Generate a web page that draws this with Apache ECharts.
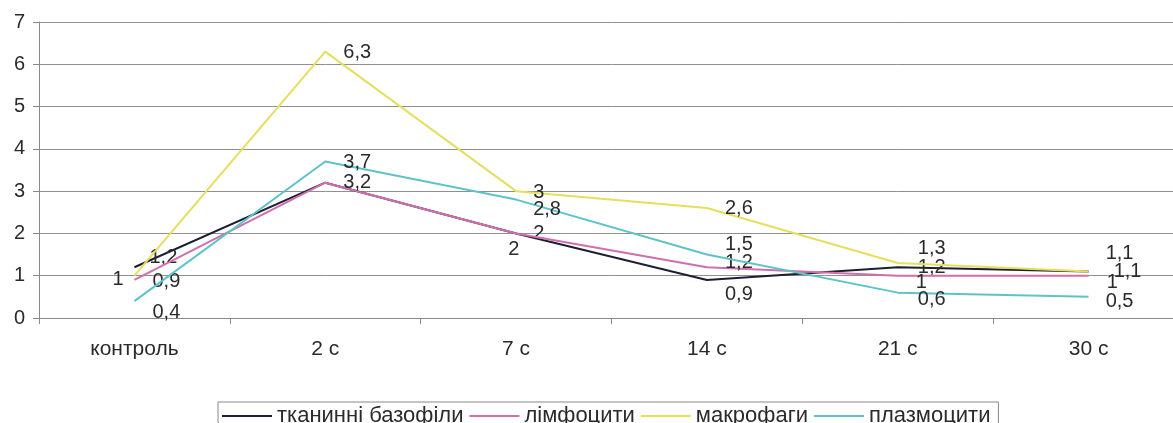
<!DOCTYPE html>
<html>
<head>
<meta charset="utf-8">
<script src="https://cdn.jsdelivr.net/npm/echarts@6/dist/echarts.min.js"></script>
<style>
  html, body { margin: 0; padding: 0; background: #ffffff; overflow: hidden; }
  /* the plot runs slightly past the right edge of the page */
  #chart { width: 1184px; height: 423px; }
</style>
</head>
<body>
<div id="chart"></div>
<script>
// Categories (time points) and series values
const categories = ['контроль', '2 с', '7 с', '14 с', '21 с', '30 с'];
const seriesNames = ['тканинні базофіли', 'лімфоцити', 'макрофаги', 'плазмоцити'];
const basophils   = [1.2, 3.2, 2, 0.9, 1.2, 1.1];
const lymphocytes = [0.9, 3.2, 2, 1.2, 1, 1];
const macrophages = [1, 6.3, 3, 2.6, 1.3, 1.1];
const plasmocytes = [0.4, 3.7, 2.8, 1.5, 0.6, 0.5];
const yTicks = [0, 1, 2, 3, 4, 5, 6, 7];

const colors = ['#1e1e32', '#cf6fae', '#e6df5c', '#5ec3c9'];

// Label offsets [dx, dy] from each point, keeping overlapping labels readable
const labelOffsets = [
  [[15, -10], [18, 0], [17, 0], [18, 15], [20, 0], [25, 0]],
  [[18, 2], [18, 0], [-8, 16], [18, -5], [18, 7], [18, 7]],
  [[-22, 4], [18, 1], [17, 1], [18, 0], [20, -15], [17, -18]],
  [[18, 11], [18, 1], [17, 10], [18, -10], [20, 7], [17, 5]]
];
// The basophil value at "2 с" coincides with the lymphocyte one; one label is enough
const hiddenLabels = [[0, 1]];

const fmt = v => String(v).replace('.', ',');
const allValues = [basophils, lymphocytes, macrophages, plasmocytes];

const series = allValues.map((vals, si) => ({
  name: seriesNames[si],
  type: 'line',
  data: vals.map((v, i) => ({
    value: v,
    label: {
      show: !hiddenLabels.some(h => h[0] === si && h[1] === i),
      offset: labelOffsets[si][i]
    }
  })),
  symbol: 'circle',
  symbolSize: 0.1,
  showSymbol: true,
  lineStyle: { color: colors[si], width: 2 },
  itemStyle: { color: colors[si] },
  label: {
    show: true,
    position: 'right',
    distance: 0,
    formatter: p => fmt(p.value),
    fontFamily: 'Liberation Sans, Arial, sans-serif',
    fontSize: 20,
    color: '#2a2a2a'
  },
  emphasis: { disabled: true },
  animation: false,
  z: 2 + si
}));

const chart = echarts.init(document.getElementById('chart'), null, { renderer: 'canvas' });
chart.setOption({
  backgroundColor: '#ffffff',
  animation: false,
  color: colors,
  grid: { left: 39, right: 0, top: 22, bottom: 105, containLabel: false },
  legend: {
    data: seriesNames,
    left: 218,
    top: 402,
    orient: 'horizontal',
    icon: 'rect',
    itemWidth: 50,
    itemHeight: 2,
    itemGap: 6,
    padding: [3, 8, 20, 4],
    borderColor: '#888',
    borderWidth: 1,
    textStyle: {
      fontFamily: 'Liberation Sans Narrow, Liberation Sans, Arial, sans-serif',
      fontSize: 22,
      color: '#2a2a2a'
    }
  },
  xAxis: {
    type: 'category',
    data: categories,
    boundaryGap: true,
    axisLine: { show: true, lineStyle: { color: '#8a8a8a', width: 1 } },
    axisTick: { show: true, length: 6, lineStyle: { color: '#8a8a8a' } },
    axisLabel: {
      margin: 21,
      fontFamily: 'Liberation Sans Narrow, Liberation Sans, Arial, sans-serif',
      fontSize: 21,
      color: '#2a2a2a'
    },
    splitLine: { show: false }
  },
  yAxis: {
    type: 'value',
    min: yTicks[0],
    max: yTicks[yTicks.length - 1],
    interval: 1,
    axisLine: { show: true, lineStyle: { color: '#8a8a8a', width: 1 } },
    axisTick: { show: true, length: 6, lineStyle: { color: '#8a8a8a' } },
    axisLabel: {
      margin: 14,
      fontFamily: 'Liberation Sans, Arial, sans-serif',
      fontSize: 20,
      color: '#2a2a2a'
    },
    splitLine: { show: true, lineStyle: { color: '#8f8f8f', width: 1 } }
  },
  series: series
});
</script>
</body>
</html>
